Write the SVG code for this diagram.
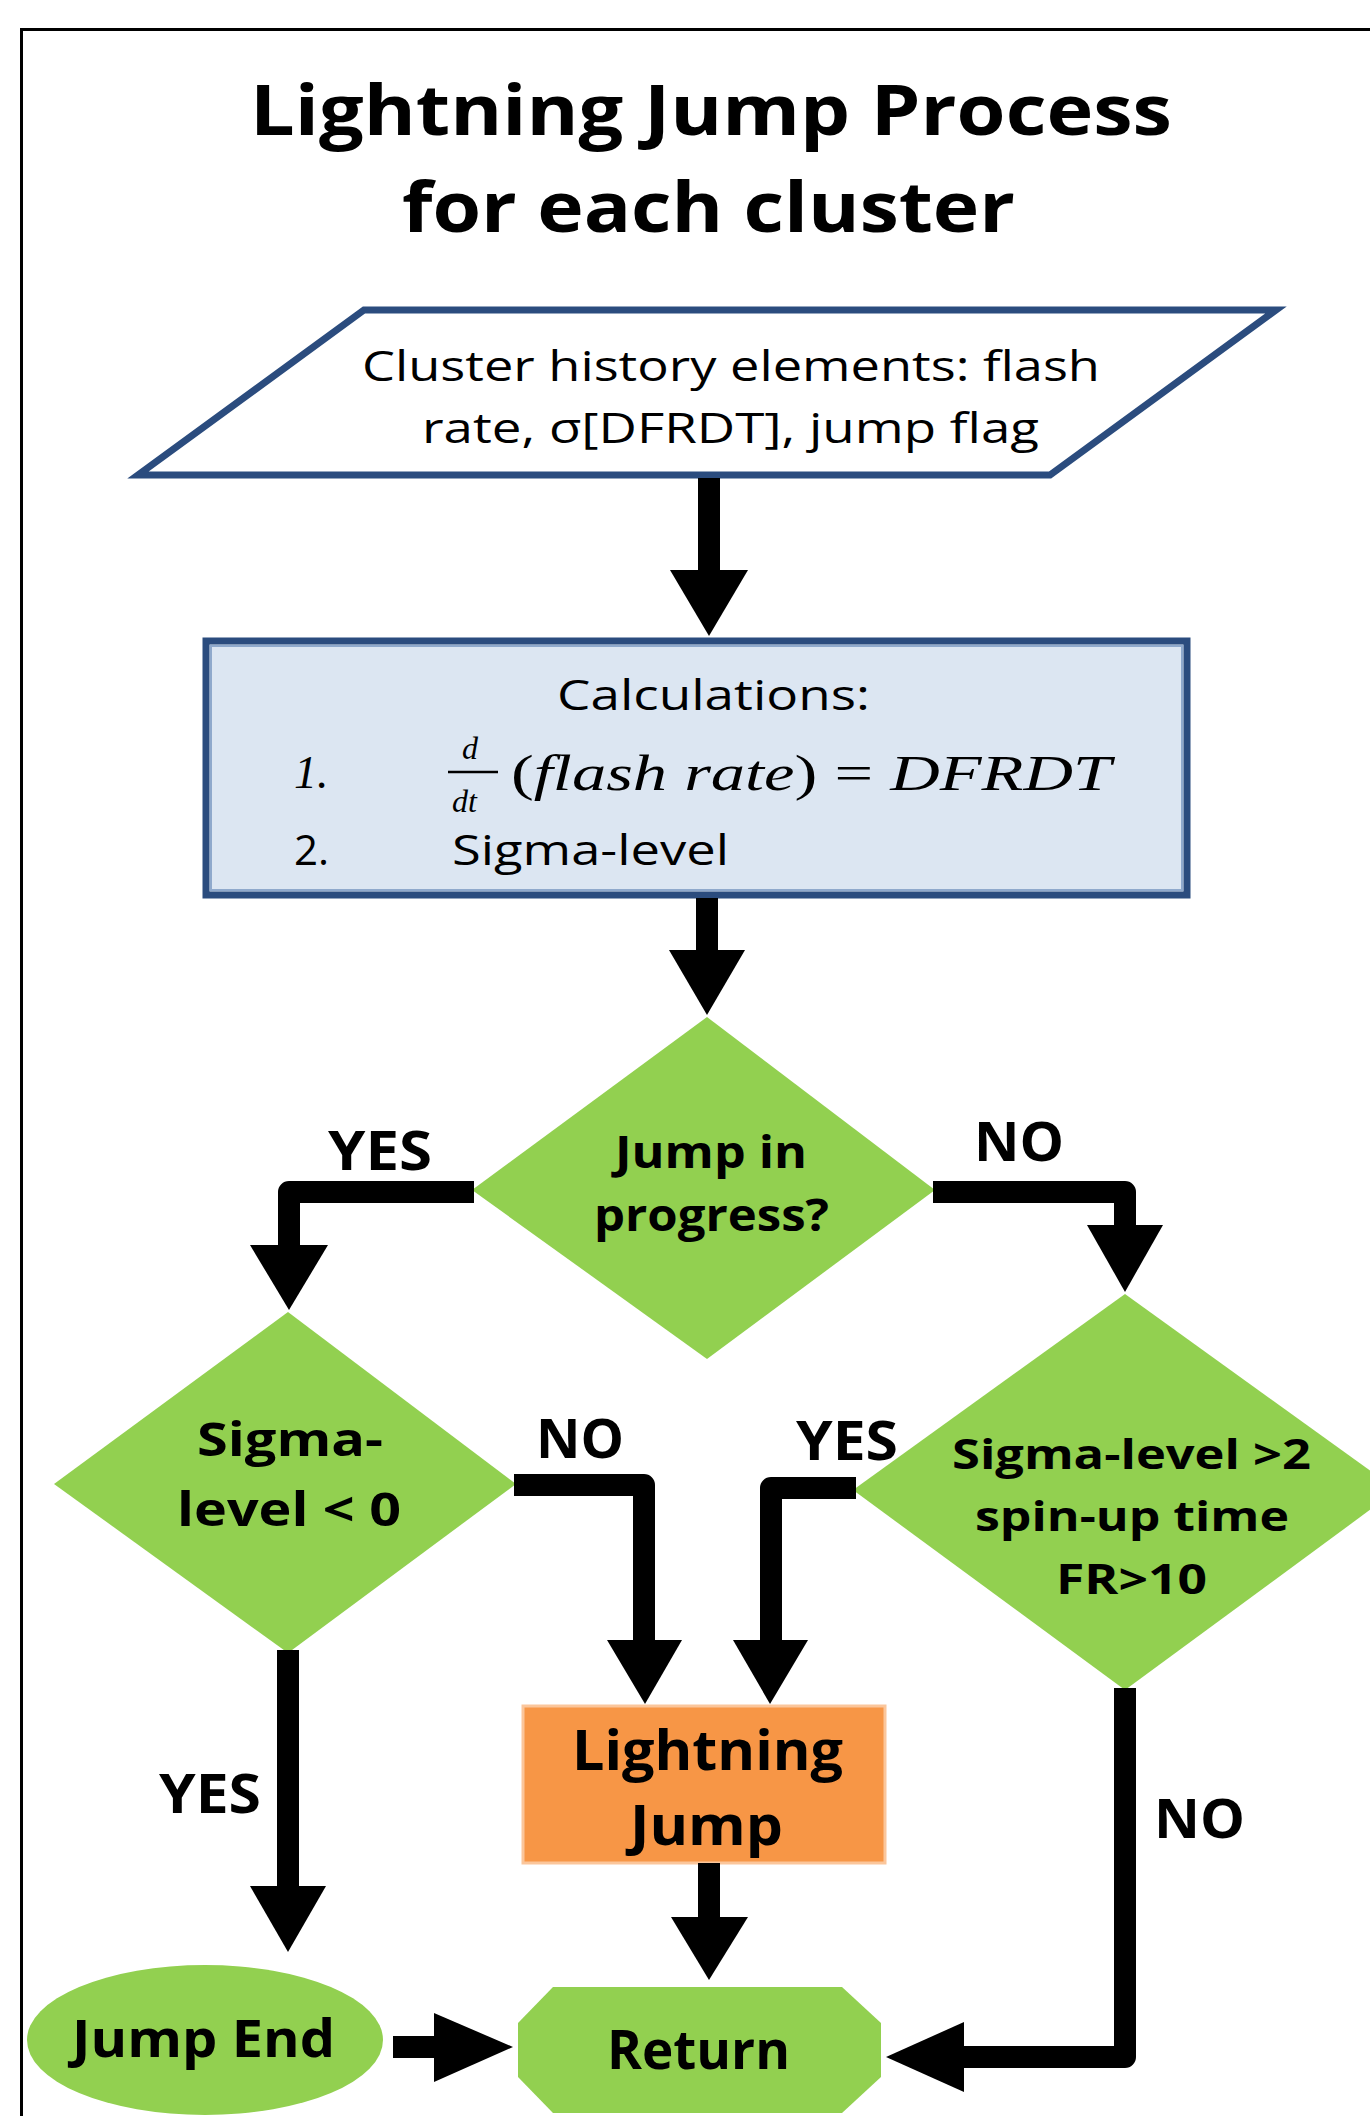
<svg xmlns="http://www.w3.org/2000/svg" width="1370" height="2116" viewBox="0 0 1370 2116">
<style>
.t{font-family:"Open Sans","Liberation Sans",sans-serif;fill:#000}
.b{font-weight:700}
.lab{font-family:"Open Sans","Liberation Sans",sans-serif;font-weight:700;font-size:54px;fill:#000}
.m{font-family:"Liberation Serif","DejaVu Serif",serif;font-style:italic;fill:#000}
.dia{fill:#92D050}
.ln{fill:none;stroke:#000;stroke-width:22;stroke-linejoin:round}
.hd{fill:#000}
</style>
<rect x="21.5" y="29.5" width="1400" height="2200" fill="#fff" stroke="#000" stroke-width="3"/>
<g id="title">
<text class="t b" x="250" y="135" font-size="70" textLength="922" lengthAdjust="spacingAndGlyphs">Lightning Jump Process</text>
<text class="t b" x="402" y="232" font-size="70" textLength="613" lengthAdjust="spacingAndGlyphs">for each cluster</text>
</g>
<g id="input">
<polygon points="364,310 1276,310 1050,475 138,475" fill="#fff" stroke="#2B4C7E" stroke-width="7"/>
<text class="t" x="362" y="381" font-size="42" textLength="738" lengthAdjust="spacingAndGlyphs">Cluster history elements: flash</text>
<text class="t" x="422" y="443" font-size="42" textLength="617" lengthAdjust="spacingAndGlyphs">rate, σ[DFRDT], jump flag</text>
</g>
<g id="calc">
<rect x="206" y="641" width="981" height="254" fill="#DCE6F2" stroke="#2B4C7E" stroke-width="7"/>
<rect x="211" y="646" width="971" height="244" fill="none" stroke="#8FA9CC" stroke-width="2"/>
<text class="t" x="557" y="710" font-size="42" textLength="313" lengthAdjust="spacingAndGlyphs">Calculations:</text>
<text class="m" x="294" y="788" font-size="46">1.</text>
<text class="m" x="462" y="759" font-size="32">d</text>
<line x1="448" y1="772" x2="498" y2="772" stroke="#000" stroke-width="2.5"/>
<text class="m" x="452" y="812" font-size="32">dt</text>
<text class="m" x="511" y="790" font-size="50" textLength="600" lengthAdjust="spacingAndGlyphs"><tspan font-style="normal">(</tspan>flash rate<tspan font-style="normal">) = </tspan>DFRDT</text>
<text class="t" x="294" y="865" font-size="42">2.</text>
<text class="t" x="452" y="865" font-size="42" textLength="277" lengthAdjust="spacingAndGlyphs">Sigma-level</text>
</g>
<g id="jumpInProgress">
<polygon class="dia" points="707,1017 935,1190 707,1359 472,1190"/>
<text class="t b" x="615" y="1168" font-size="44" textLength="192" lengthAdjust="spacingAndGlyphs">Jump in</text>
<text class="t b" x="594" y="1231" font-size="44" textLength="235" lengthAdjust="spacingAndGlyphs">progress?</text>
</g>
<g id="sigmaLow">
<polygon class="dia" points="288,1312 516,1484 288,1653 54,1484"/>
<text class="t b" x="197" y="1456" font-size="46" textLength="186" lengthAdjust="spacingAndGlyphs">Sigma-</text>
<text class="t b" x="177" y="1526" font-size="46" textLength="224" lengthAdjust="spacingAndGlyphs">level &lt; 0</text>
</g>
<g id="sigmaHigh">
<polygon class="dia" points="1125,1294 1397,1490 1125,1690 853,1490"/>
<text class="t b" x="952" y="1469" font-size="42" textLength="359" lengthAdjust="spacingAndGlyphs">Sigma-level &gt;2</text>
<text class="t b" x="975" y="1531" font-size="42" textLength="314" lengthAdjust="spacingAndGlyphs">spin-up time</text>
<text class="t b" x="1056" y="1594" font-size="42" textLength="151" lengthAdjust="spacingAndGlyphs">FR&gt;10</text>
</g>
<g id="lightningJump">
<rect x="523" y="1706" width="362" height="157" fill="#F79646" stroke="#FBC69B" stroke-width="3"/>
<text class="t b" x="572" y="1770" font-size="56" textLength="271" lengthAdjust="spacingAndGlyphs">Lightning</text>
<text class="t b" x="630" y="1845" font-size="56" textLength="153" lengthAdjust="spacingAndGlyphs">Jump</text>
</g>
<g id="jumpEnd">
<ellipse cx="205" cy="2040" rx="178" ry="75" fill="#92D050"/>
<text class="t b" x="72" y="2057" font-size="52" textLength="263" lengthAdjust="spacingAndGlyphs">Jump End</text>
</g>
<g id="return">
<polygon points="553,1987 842,1987 881,2023 881,2077 842,2113 553,2113 518,2077 518,2023" fill="#92D050"/>
<text class="t b" x="607" y="2069" font-size="54" textLength="183" lengthAdjust="spacingAndGlyphs">Return</text>
</g>
<g id="connectors">
<path class="ln" d="M709,478 V575"/>
<polygon class="hd" points="670,570 748,570 709,636"/>
<path class="ln" d="M707,898 V955"/>
<polygon class="hd" points="669,950 745,950 707,1015"/>
<path class="ln" d="M474,1192 H289 V1250"/>
<polygon class="hd" points="250,1245 328,1245 289,1310"/>
<path class="ln" d="M933,1192 H1125 V1230"/>
<polygon class="hd" points="1087,1225 1163,1225 1125,1292"/>
<path class="ln" d="M514,1485 H644 V1645"/>
<polygon class="hd" points="607,1640 682,1640 645,1704"/>
<path class="ln" d="M856,1488 H771 V1645"/>
<polygon class="hd" points="733,1640 808,1640 770,1704"/>
<path class="ln" d="M288,1650 V1890"/>
<polygon class="hd" points="250,1886 326,1886 288,1952"/>
<path class="ln" d="M709,1863 V1922"/>
<polygon class="hd" points="671,1917 748,1917 709,1980"/>
<path class="ln" d="M393,2047 H440" stroke-width="24"/>
<polygon class="hd" points="434,2013 434,2082 513,2047"/>
<path class="ln" d="M1125,1688 V2057 H958"/>
<polygon class="hd" points="964,2022 964,2092 886,2057"/>
</g>
<g id="labels">
<text class="lab" x="328" y="1170" textLength="104" lengthAdjust="spacingAndGlyphs">YES</text>
<text class="lab" x="974" y="1161" textLength="90" lengthAdjust="spacingAndGlyphs">NO</text>
<text class="lab" x="536" y="1458" textLength="88" lengthAdjust="spacingAndGlyphs">NO</text>
<text class="lab" x="796" y="1460" textLength="102" lengthAdjust="spacingAndGlyphs">YES</text>
<text class="lab" x="159" y="1813" textLength="102" lengthAdjust="spacingAndGlyphs">YES</text>
<text class="lab" x="1154" y="1838" textLength="91" lengthAdjust="spacingAndGlyphs">NO</text>
</g>
</svg>
